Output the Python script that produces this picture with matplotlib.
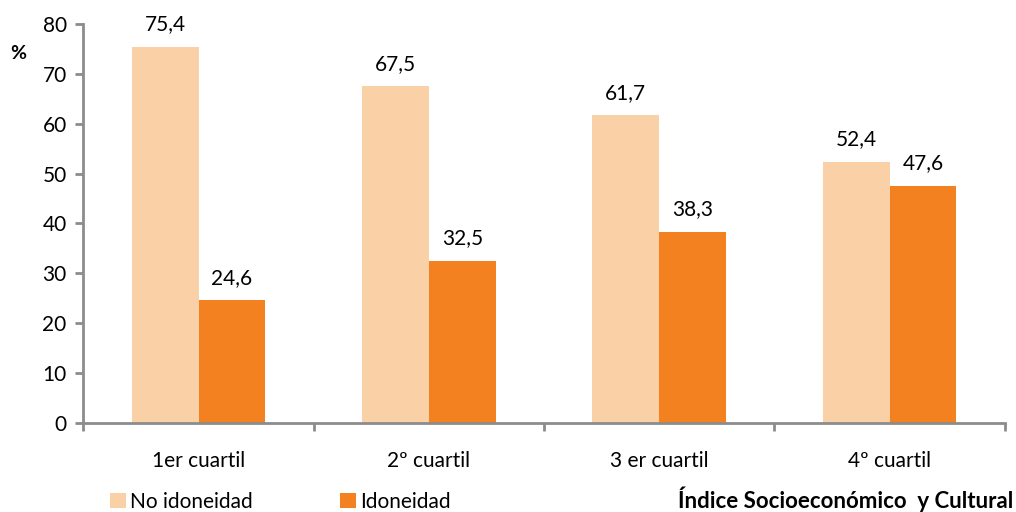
import matplotlib
matplotlib.use('Agg')

import matplotlib.pyplot as plt
import numpy as np
from matplotlib import rcParams

rcParams['font.family'] = ['Lato', 'DejaVu Sans']
rcParams['font.size'] = 15.0

categories = ['1er cuartil', '2º cuartil', '3 er cuartil', '4º cuartil']
no_idoneidad = [75.4, 67.5, 61.7, 52.4]
idoneidad = [24.6, 32.5, 38.3, 47.6]
series_names = ['No idoneidad', 'Idoneidad']
yticks = [0, 10, 20, 30, 40, 50, 60, 70, 80]

colors = ['#FAD1A6', '#F48120']
axis_gray = '#8C8C8C'

fig = plt.figure(figsize=(10.16, 5.12), dpi=100)
ax = fig.add_axes([0.082, 0.174, 0.907, 0.779])

x = np.arange(len(categories))
w = 0.29
b1 = ax.bar(x - w / 2, no_idoneidad, w, color=colors[0], label=series_names[0])
b2 = ax.bar(x + w / 2, idoneidad, w, color=colors[1], label=series_names[1])

for bars, vals in [(b1, no_idoneidad), (b2, idoneidad)]:
	for rect, v in zip(bars, vals):
		ax.annotate(('%.1f' % v).replace('.', ','),
					(rect.get_x() + rect.get_width() / 2, v),
					xytext=(0, 9), textcoords='offset points',
					ha='center', va='bottom', fontsize=15)

ax.set_xlim(-0.5, len(categories) - 0.5)
ax.set_ylim(0, 80)
ax.set_yticks(yticks)
ax.set_xticks(np.arange(len(categories) + 1) - 0.5)
ax.set_xticklabels([])
ax.set_xticks(x, minor=True)
ax.set_xticklabels(categories, minor=True)
ax.tick_params(axis='x', which='minor', length=0, pad=20)
ax.tick_params(axis='x', which='major', length=6, width=2, color=axis_gray)
ax.tick_params(axis='y', length=6, width=2, color=axis_gray, pad=6)

for s in ['top', 'right']:
	ax.spines[s].set_visible(False)
for s in ['left', 'bottom']:
	ax.spines[s].set_color(axis_gray)
	ax.spines[s].set_linewidth(2)

fig.text(0.010, 0.895, '%', fontsize=14, fontweight='bold', ha='left', va='center')

fig.legend(handles=[b1, b2], loc='center left', bbox_to_anchor=(0.098, 0.02),
		   ncol=2, frameon=False, handlelength=0.75, handleheight=0.75,
		   columnspacing=4.2, handletextpad=0.2, fontsize=15, borderpad=0)

fig.text(0.997, 0.025, 'Índice Socioeconómico  y Cultural', fontsize=16,
		 fontweight='bold', ha='right', va='center')

fig.savefig('out.png', dpi=100)
